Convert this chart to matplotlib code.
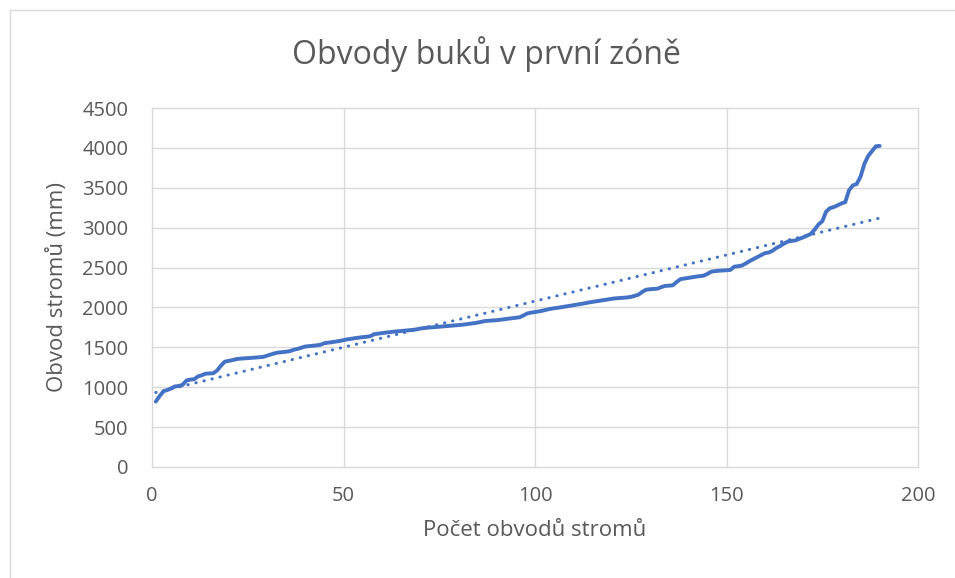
import numpy as np
import matplotlib.pyplot as plt
from matplotlib.patches import Rectangle

# Obvody stromů seřazené podle velikosti (mm)
poradi = list(range(1, 191))
obvody = [
    820, 890, 950, 965, 985, 1010, 1015, 1030, 1085, 1095,
    1100, 1135, 1150, 1170, 1172, 1175, 1210, 1270, 1320, 1330,
    1340, 1352, 1358, 1362, 1365, 1368, 1372, 1376, 1380, 1395,
    1410, 1425, 1435, 1440, 1445, 1452, 1470, 1480, 1495, 1510,
    1515, 1520, 1525, 1532, 1552, 1558, 1565, 1572, 1580, 1590,
    1600, 1608, 1615, 1622, 1628, 1632, 1640, 1665, 1672, 1678,
    1684, 1690, 1696, 1700, 1705, 1710, 1714, 1718, 1725, 1735,
    1742, 1746, 1750, 1755, 1759, 1762, 1766, 1770, 1774, 1778,
    1783, 1790, 1796, 1802, 1810, 1820, 1830, 1834, 1837, 1840,
    1846, 1852, 1858, 1864, 1870, 1877, 1900, 1925, 1935, 1942,
    1950, 1960, 1972, 1982, 1990, 1996, 2004, 2012, 2020, 2028,
    2035, 2043, 2052, 2062, 2070, 2078, 2085, 2092, 2100, 2108,
    2114, 2118, 2122, 2125, 2132, 2145, 2160, 2195, 2222, 2228,
    2232, 2236, 2255, 2270, 2273, 2278, 2320, 2355, 2362, 2370,
    2378, 2386, 2392, 2398, 2420, 2448, 2455, 2460, 2463, 2465,
    2470, 2510, 2518, 2525, 2550, 2580, 2605, 2630, 2655, 2680,
    2688, 2710, 2745, 2770, 2800, 2825, 2834, 2840, 2860, 2878,
    2900, 2921, 2975, 3040, 3080, 3200, 3245, 3258, 3280, 3304,
    3320, 3470, 3530, 3548, 3640, 3800, 3900, 3960, 4020, 4025,
]

x_ticks = [0, 50, 100, 150, 200]
y_ticks = list(range(0, 4501, 500))

modra = '#4472C4'
seda_text = '#595959'
seda_mrizka = '#D9D9D9'

plt.rcParams['font.family'] = ['Open Sans', 'DejaVu Sans']

fig = plt.figure(figsize=(9.55, 5.78), dpi=100)
ax = fig.add_axes([152 / 955, 1 - 467 / 578, (918 - 152) / 955, (467 - 108) / 578])

# rámeček grafu
fig.patches.append(Rectangle((10 / 955, -0.05), 1.0, 1 - 10 / 578 + 0.05,
                             transform=fig.transFigure, fill=False,
                             edgecolor=seda_mrizka, linewidth=1))

x = np.array(poradi)
y = np.array(obvody)
ax.plot(x, y, color=modra, linewidth=2.8, solid_capstyle='round', zorder=3)

# lineární spojnice trendu
k, q = np.polyfit(x, y, 1)
ax.plot([x[0], x[-1]], [k * x[0] + q, k * x[-1] + q], color=modra,
        linewidth=2.2, linestyle=(0, (0.1, 2.6)), dash_capstyle='round', zorder=2)

ax.set_xlim(0, 200)
ax.set_ylim(0, 4500)
ax.set_xticks(x_ticks)
ax.set_yticks(y_ticks)
for s in ax.spines.values():
    s.set_visible(False)
ax.grid(True, color=seda_mrizka, linewidth=1)
for gl in ax.get_xgridlines() + ax.get_ygridlines():
    gl.set_clip_on(False)
ax.set_axisbelow(True)
ax.tick_params(length=0, labelsize=14.5, colors=seda_text)
ax.tick_params(axis='x', pad=14)
ax.tick_params(axis='y', pad=17)

# titulek je vycentrovaný na celý graf, ne na oblast grafu
fig.text(486 / 955, 1 - 64 / 578, 'Obvody buků v první zóně', fontsize=23,
         color=seda_text, ha='center', va='baseline')
ax.set_xlabel('Počet obvodů stromů', fontsize=16, color=seda_text, labelpad=10)
ax.set_ylabel('Obvod stromů (mm)', fontsize=16, color=seda_text, labelpad=10)

fig.savefig('out.png', dpi=100, facecolor='white')
